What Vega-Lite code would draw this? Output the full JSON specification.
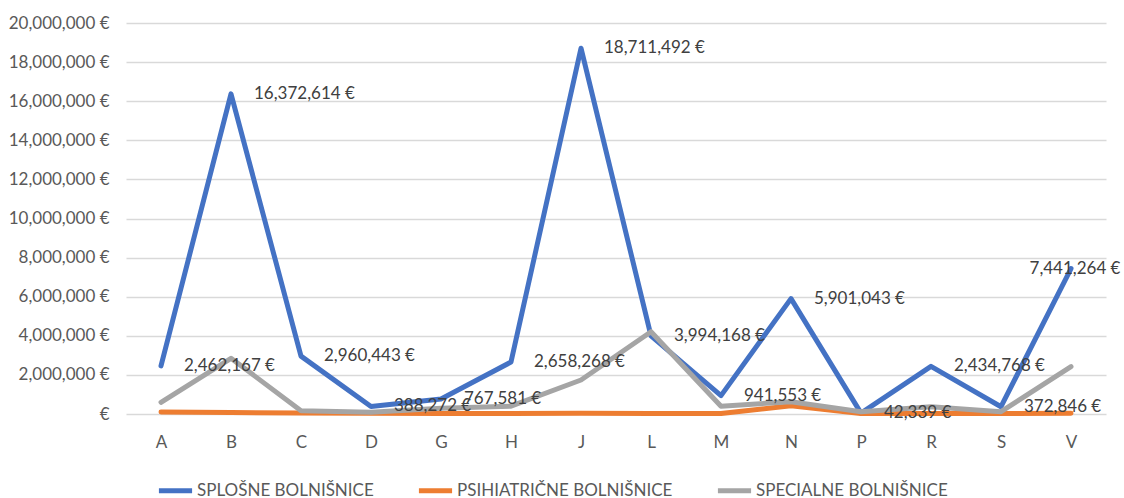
{
  "$schema": "https://vega.github.io/schema/vega-lite/v6.json",
  "width": 980,
  "height": 391,
  "autosize": {"type": "none"},
  "padding": {"left": 126, "top": 23, "right": 18, "bottom": 84},
  "background": "white",
  "config": {
    "font": "Lato",
    "view": {"stroke": null},
    "locale": {"number": {"decimal": ".", "thousands": ",", "grouping": [3], "currency": ["", " €"]}}
  },
  "data": {
    "values": [
      {"cat": "A", "series": "SPLOŠNE BOLNIŠNICE", "value": 2462167},
      {"cat": "B", "series": "SPLOŠNE BOLNIŠNICE", "value": 16372614},
      {"cat": "C", "series": "SPLOŠNE BOLNIŠNICE", "value": 2960443},
      {"cat": "D", "series": "SPLOŠNE BOLNIŠNICE", "value": 388272},
      {"cat": "G", "series": "SPLOŠNE BOLNIŠNICE", "value": 767581},
      {"cat": "H", "series": "SPLOŠNE BOLNIŠNICE", "value": 2658268},
      {"cat": "J", "series": "SPLOŠNE BOLNIŠNICE", "value": 18711492},
      {"cat": "L", "series": "SPLOŠNE BOLNIŠNICE", "value": 3994168},
      {"cat": "M", "series": "SPLOŠNE BOLNIŠNICE", "value": 941553},
      {"cat": "N", "series": "SPLOŠNE BOLNIŠNICE", "value": 5901043},
      {"cat": "P", "series": "SPLOŠNE BOLNIŠNICE", "value": 42339},
      {"cat": "R", "series": "SPLOŠNE BOLNIŠNICE", "value": 2434768},
      {"cat": "S", "series": "SPLOŠNE BOLNIŠNICE", "value": 372846},
      {"cat": "V", "series": "SPLOŠNE BOLNIŠNICE", "value": 7441264},
      {"cat": "A", "series": "PSIHIATRIČNE BOLNIŠNICE", "value": 100000},
      {"cat": "B", "series": "PSIHIATRIČNE BOLNIŠNICE", "value": 80000},
      {"cat": "C", "series": "PSIHIATRIČNE BOLNIŠNICE", "value": 50000},
      {"cat": "D", "series": "PSIHIATRIČNE BOLNIŠNICE", "value": 40000},
      {"cat": "G", "series": "PSIHIATRIČNE BOLNIŠNICE", "value": 30000},
      {"cat": "H", "series": "PSIHIATRIČNE BOLNIŠNICE", "value": 30000},
      {"cat": "J", "series": "PSIHIATRIČNE BOLNIŠNICE", "value": 40000},
      {"cat": "L", "series": "PSIHIATRIČNE BOLNIŠNICE", "value": 30000},
      {"cat": "M", "series": "PSIHIATRIČNE BOLNIŠNICE", "value": 30000},
      {"cat": "N", "series": "PSIHIATRIČNE BOLNIŠNICE", "value": 420000},
      {"cat": "P", "series": "PSIHIATRIČNE BOLNIŠNICE", "value": 20000},
      {"cat": "R", "series": "PSIHIATRIČNE BOLNIŠNICE", "value": 30000},
      {"cat": "S", "series": "PSIHIATRIČNE BOLNIŠNICE", "value": 20000},
      {"cat": "V", "series": "PSIHIATRIČNE BOLNIŠNICE", "value": 40000},
      {"cat": "A", "series": "SPECIALNE BOLNIŠNICE", "value": 600000},
      {"cat": "B", "series": "SPECIALNE BOLNIŠNICE", "value": 2850000},
      {"cat": "C", "series": "SPECIALNE BOLNIŠNICE", "value": 170000},
      {"cat": "D", "series": "SPECIALNE BOLNIŠNICE", "value": 90000},
      {"cat": "G", "series": "SPECIALNE BOLNIŠNICE", "value": 300000},
      {"cat": "H", "series": "SPECIALNE BOLNIŠNICE", "value": 400000},
      {"cat": "J", "series": "SPECIALNE BOLNIŠNICE", "value": 1740000},
      {"cat": "L", "series": "SPECIALNE BOLNIŠNICE", "value": 4210000},
      {"cat": "M", "series": "SPECIALNE BOLNIŠNICE", "value": 400000},
      {"cat": "N", "series": "SPECIALNE BOLNIŠNICE", "value": 630000},
      {"cat": "P", "series": "SPECIALNE BOLNIŠNICE", "value": 120000},
      {"cat": "R", "series": "SPECIALNE BOLNIŠNICE", "value": 370000},
      {"cat": "S", "series": "SPECIALNE BOLNIŠNICE", "value": 120000},
      {"cat": "V", "series": "SPECIALNE BOLNIŠNICE", "value": 2420000}
    ]
  },
  "encoding": {
    "x": {
      "field": "cat", "type": "nominal", "sort": null,
      "scale": {"type": "point", "padding": 0.5},
      "axis": {"title": null, "domain": false, "ticks": false, "grid": false, "labelAngle": 0,
               "labelFontSize": 17, "labelColor": "#595959", "labelPadding": 20, "labelFont": "Lato"}
    },
    "y": {
      "field": "value", "type": "quantitative",
      "scale": {"domain": [0, 20000000], "nice": false},
      "axis": {"title": null, "domain": false, "ticks": false, "grid": true, "gridColor": "#D9D9D9", "gridWidth": 1.3,
               "values": [0, 2000000, 4000000, 6000000, 8000000, 10000000, 12000000, 14000000, 16000000, 18000000, 20000000],
               "labelExpr": "datum.value == 0 ? '€' : format(datum.value, ',') + ' €'",
               "labelFontSize": 17, "labelColor": "#595959", "labelPadding": 17, "labelFont": "Lato"}
    }
  },
  "layer": [
    {
      "mark": {"type": "line", "strokeWidth": 5, "strokeCap": "round", "strokeJoin": "round"},
      "encoding": {
        "color": {
          "field": "series", "type": "nominal",
          "scale": {"domain": ["SPLOŠNE BOLNIŠNICE", "PSIHIATRIČNE BOLNIŠNICE", "SPECIALNE BOLNIŠNICE"],
                    "range": ["#4472C4", "#ED7D31", "#A5A5A5"]},
          "legend": {"title": null, "orient": "none", "direction": "horizontal", "legendX": 30, "legendY": 448,
                     "symbolType": "stroke", "symbolStrokeWidth": 5, "symbolSize": 1100,
                     "labelFontSize": 17, "labelColor": "#595959", "labelFont": "Lato", "labelOffset": 2,
                     "columnPadding": 34, "labelLimit": 300}
        }
      }
    },
    {
      "transform": [{"filter": "datum.series == 'SPLOŠNE BOLNIŠNICE' && datum.cat != 'V'"}],
      "mark": {"type": "text", "align": "left", "baseline": "middle", "dx": 23, "fontSize": 17, "color": "#404040", "font": "Lato"},
      "encoding": {"text": {"field": "value", "type": "quantitative", "format": "$,.0f"}}
    },
    {
      "transform": [{"filter": "datum.series == 'SPLOŠNE BOLNIŠNICE' && datum.cat == 'V'"}],
      "mark": {"type": "text", "align": "center", "baseline": "middle", "dx": 4, "fontSize": 17, "color": "#404040", "font": "Lato"},
      "encoding": {"text": {"field": "value", "type": "quantitative", "format": "$,.0f"}}
    }
  ]
}
